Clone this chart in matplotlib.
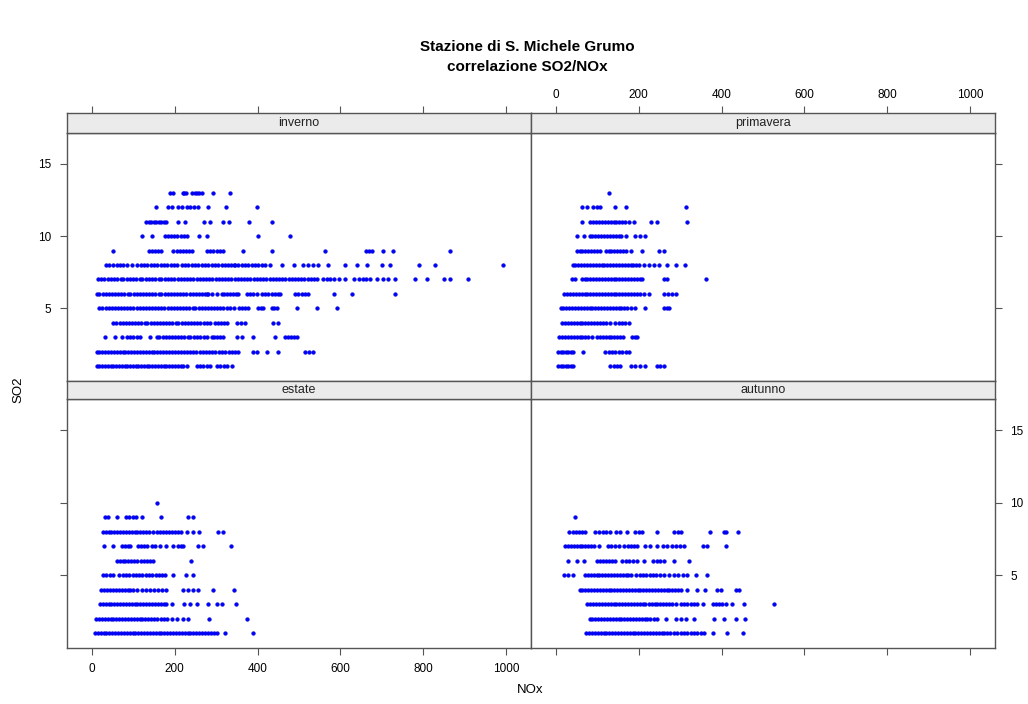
import matplotlib
matplotlib.use("Agg")
import matplotlib.pyplot as plt

plt.rcParams['font.family'] = ['Liberation Sans', 'DejaVu Sans']

# ---------------- data: NOx values per SO2 level (row i -> SO2 = i+1) ----------------
seasons = ["inverno", "primavera", "estate", "autunno"]

inverno_nox = [
    [11,18,25,31,38,45,52,58,65,72,79,85,92,99,106,112,119,126,133,139,146,153,160,166,173,180,187,193,200,207,214,221,229,253,261,269,277,285,301,309,318,327,338],
    [11,18,25,32,39,46,53,60,67,74,81,88,95,102,109,116,123,130,137,144,151,158,165,172,179,186,193,200,207,214,222,230,237,245,252,260,268,276,283,291,298,306,314,322,330,338,346,354,390,398,422,450,515,525,535],
    [31,55,72,84,92,100,108,116,140,156,163,171,178,186,193,201,208,216,223,231,238,246,254,262,270,277,289,296,303,310,317,350,362,390,442,467,474,481,488,495],
    [52,59,67,74,82,89,97,104,112,119,127,134,142,149,157,164,172,179,187,194,202,209,217,224,232,239,247,254,262,270,277,285,297,304,311,319,326,350,360,370,438,450],
    [18,25,33,40,48,55,63,70,78,85,93,100,108,115,123,130,138,145,153,160,168,175,183,190,198,205,213,220,228,235,243,250,258,265,273,280,288,295,303,310,317,326,334,342,356,363,370,378,402,408,414,434,440,446,495,543,593],
    [11,18,26,33,41,48,56,63,71,78,86,93,101,108,116,123,131,138,146,153,161,168,176,183,191,198,206,213,221,228,236,243,251,258,266,273,277,281,291,301,313,320,327,334,341,348,354,374,382,390,398,410,418,426,434,442,450,454,491,499,507,515,523,585,628,733],
    [15,23,30,38,46,53,61,69,76,84,92,99,107,115,122,130,138,145,153,161,168,176,184,191,199,207,214,222,230,237,245,253,260,268,276,283,291,299,306,314,322,329,337,345,352,360,368,375,383,391,398,406,414,421,429,437,444,452,460,467,475,483,490,498,506,513,521,529,536,543,559,567,575,585,596,612,632,645,656,662,671,688,704,716,733,781,809,850,866,908],
    [35,42,52,60,67,75,84,96,110,118,126,134,142,150,158,166,174,182,190,198,205,217,225,233,241,249,257,265,273,281,289,297,305,313,321,329,336,342,346,354,362,370,378,386,394,402,410,418,430,459,487,511,523,535,547,571,612,640,664,700,720,789,829,993],
    [52,138,145,153,160,168,197,205,212,220,228,235,241,277,285,293,301,309,317,364,434,563,662,669,676,703,727,864],
    [122,144,176,184,191,198,206,214,222,229,259,279,402,479],
    [131,137,143,149,155,161,167,174,180,209,225,271,285,317,332,380,434],
    [155,184,193,209,217,229,237,246,257,281,323,398],
    [188,197,219,222,227,241,249,255,259,265,292,334],
]

primavera_nox = [
    [6,12,18,24,30,36,42,131,139,147,155,180,192,204,216,243,252,261],
    [6,12,18,24,30,36,42,66,119,127,135,143,151,160,168,176],
    [8,15,22,29,36,43,50,57,64,71,78,87,99,106,113,120,127,134,141,148,155,163,184,190,196],
    [15,22,29,36,43,50,57,64,71,78,85,92,99,106,113,120,131,143,151,159,167,176],
    [11,18,25,32,39,46,53,60,67,74,81,88,95,102,109,116,123,130,137,144,151,158,165,172,180,192,216,261,267,273],
    [20,27,34,41,48,55,62,69,76,83,90,97,104,111,118,125,132,139,146,153,160,167,174,181,188,195,202,212,224,261,270,280,289],
    [38,46,62,69,76,83,90,97,104,111,118,125,132,139,146,153,160,167,174,181,188,195,202,208,261,269,362],
    [40,47,54,61,68,75,82,89,96,103,110,117,124,131,138,145,152,159,166,173,180,187,194,201,212,224,236,248,269,289,312],
    [50,57,64,71,78,85,92,99,106,120,127,134,141,148,155,162,169,180,208,248,261],
    [50,68,81,88,95,102,109,116,123,130,137,144,151,158,168,192,203,214],
    [62,83,90,97,104,111,118,125,132,139,146,153,160,167,176,189,230,243,316],
    [62,76,89,98,107,143,168,313],
    [129],
]

estate_nox = [
    [7,14,21,28,35,42,49,56,63,70,77,84,91,98,105,112,119,126,133,140,147,154,161,168,175,182,189,196,203,210,217,224,231,238,245,252,259,266,273,280,287,294,301,321,390],
    [10,17,24,31,38,45,52,59,66,73,80,87,94,101,108,115,122,129,136,143,150,158,166,174,182,193,205,219,233,283,374],
    [19,26,33,40,47,54,61,68,75,82,89,96,103,110,117,124,131,138,145,152,159,166,173,180,193,222,237,253,281,301,313,348],
    [23,30,37,44,51,58,65,72,79,86,93,100,110,120,130,140,150,160,170,180,219,232,245,257,293,343],
    [26,34,43,52,66,74,82,90,98,106,114,122,130,138,146,154,162,170,176,197,227,243],
    [60,67,74,81,88,95,102,110,118,126,134,141,148,239],
    [30,52,72,79,86,92,112,119,126,132,144,152,164,180,195,209,215,221,257,269,335],
    [26,33,40,47,54,61,68,75,82,89,96,103,110,117,124,131,138,148,158,165,172,179,186,193,200,207,214,229,245,259,305,317],
    [31,39,60,82,90,98,106,122,168,233,245],
    [158],
]

autunno_nox = [
    [73,80,87,94,101,108,115,122,129,136,143,150,157,164,171,178,185,192,199,206,213,220,227,234,241,248,255,262,269,276,285,293,301,309,317,325,333,341,349,358,378,414,451],
    [81,88,95,102,109,116,123,130,137,144,151,158,165,172,179,186,193,200,207,214,221,228,236,244,265,289,301,313,333,382,405,434,456],
    [76,83,90,97,104,111,118,125,132,139,146,153,160,167,174,181,188,195,202,209,216,224,231,238,245,252,259,266,273,280,289,301,309,317,325,333,341,354,378,386,394,402,410,426,455,527],
    [57,64,71,78,85,92,99,106,113,120,127,134,141,148,155,162,169,176,183,190,197,204,211,218,225,232,239,246,253,260,267,274,281,288,295,301,317,341,359,390,398,434,443],
    [20,28,40,70,77,84,91,98,105,112,119,126,133,140,147,154,161,168,175,180,194,202,210,218,226,234,242,250,261,273,284,295,306,317,337,364],
    [30,50,68,99,106,113,120,127,135,143,159,168,177,186,196,212,235,244,252,261,286,321],
    [22,29,36,43,50,57,64,71,78,85,92,103,125,133,142,151,165,173,181,189,196,216,227,243,259,269,279,289,299,309,356,364,410],
    [32,40,48,56,63,70,95,104,113,122,131,146,154,172,192,200,208,244,286,295,303,372,405,410,439],
    [45],
]

x_ticks = [0, 200, 400, 600, 800, 1000]
y_ticks = [5, 10, 15]

title_text = "Stazione di S. Michele Grumo\ncorrelazione SO2/NOx"
xlabel_text = "NOx"
ylabel_text = "SO2"

# ---------------- layout ----------------
W, H = 1028, 704
fig = plt.figure(figsize=(W / 100, H / 100), dpi=100)

def fx(px):
    return px / W

def fy(py):
    return 1 - py / H

xl, xm, xr = 66.7, 530.7, 995.0
top_strip_t, top_strip_b = 113.3, 132.7
top_panel_b = 380.7
bot_strip_b = 399.3
bot_panel_b = 648.0

border = "#555555"
strip_col = "#EBEBEB"
pt_col = "#0000FF"
xlim = (-61, 1060)
ylim = (0.0, 17.15)

data_by_season = {
    "inverno": inverno_nox,
    "primavera": primavera_nox,
    "estate": estate_nox,
    "autunno": autunno_nox,
}

cells = {
    "inverno": (xl, xm, top_strip_b, top_panel_b, top_strip_t),
    "primavera": (xm, xr, top_strip_b, top_panel_b, top_strip_t),
    "estate": (xl, xm, bot_strip_b, bot_panel_b, top_panel_b),
    "autunno": (xm, xr, bot_strip_b, bot_panel_b, top_panel_b),
}

axes = {}
strips = {}
for name in seasons:
    x0, x1, ptop, pbot, stop = cells[name]
    ax = fig.add_axes([fx(x0), fy(pbot), fx(x1) - fx(x0), fy(ptop) - fy(pbot)])
    sax = fig.add_axes([fx(x0), fy(ptop), fx(x1) - fx(x0), fy(stop) - fy(ptop)], sharex=ax)
    axes[name] = ax
    strips[name] = sax

    rows = data_by_season[name]
    xs, ys = [], []
    for i, row in enumerate(rows):
        xs.extend(row)
        ys.extend([i + 1] * len(row))
    ax.plot(xs, ys, linestyle="none", marker="o", markersize=2.7,
            markerfacecolor=pt_col, markeredgecolor="#0000CC", markeredgewidth=0.3)
    ax.set_xlim(*xlim)
    ax.set_ylim(*ylim)
    ax.set_facecolor("white")
    for sp in ax.spines.values():
        sp.set_color(border)
        sp.set_linewidth(1.0)

    sax.set_facecolor(strip_col)
    sax.set_ylim(0, 1)
    for sp in sax.spines.values():
        sp.set_color(border)
        sp.set_linewidth(1.0)
    sax.text(0.5, 0.5, name, transform=sax.transAxes, ha="center", va="center",
             fontsize=9, color="#222222")
    sax.set_yticks([])

    ax.tick_params(axis="both", which="both", bottom=False, top=False, left=False, right=False,
                   labelbottom=False, labeltop=False, labelleft=False, labelright=False,
                   direction="out", length=5, width=0.8, color=border, labelsize=8.5, pad=6)
    sax.tick_params(axis="both", which="both", bottom=False, top=False, left=False, right=False,
                    labelbottom=False, labeltop=False, labelleft=False, labelright=False,
                    direction="out", length=5, width=0.8, color=border, labelsize=8.5, pad=4)
    ax.set_xticks(x_ticks)
    ax.set_yticks(y_ticks)

axes["inverno"].tick_params(left=True, labelleft=True)
strips["inverno"].tick_params(top=True, labeltop=False)
axes["primavera"].tick_params(right=True, labelright=False)
strips["primavera"].tick_params(top=True, labeltop=True)
axes["estate"].tick_params(left=True, labelleft=False, bottom=True, labelbottom=True)
axes["autunno"].tick_params(right=True, labelright=True, bottom=True, labelbottom=False)

for lab in strips["primavera"].get_xticklabels():
    lab.set_visible(True)

fig.text(fx(527), fy(57), title_text, ha="center", va="center", fontsize=11,
         fontweight="bold", linespacing=1.55)
fig.text(fx(530), fy(690), xlabel_text, ha="center", va="center", fontsize=9.5)
fig.text(fx(18), fy(390), ylabel_text, ha="center", va="center", fontsize=9.5, rotation=90)

fig.savefig("out.png", dpi=100, facecolor="white")
